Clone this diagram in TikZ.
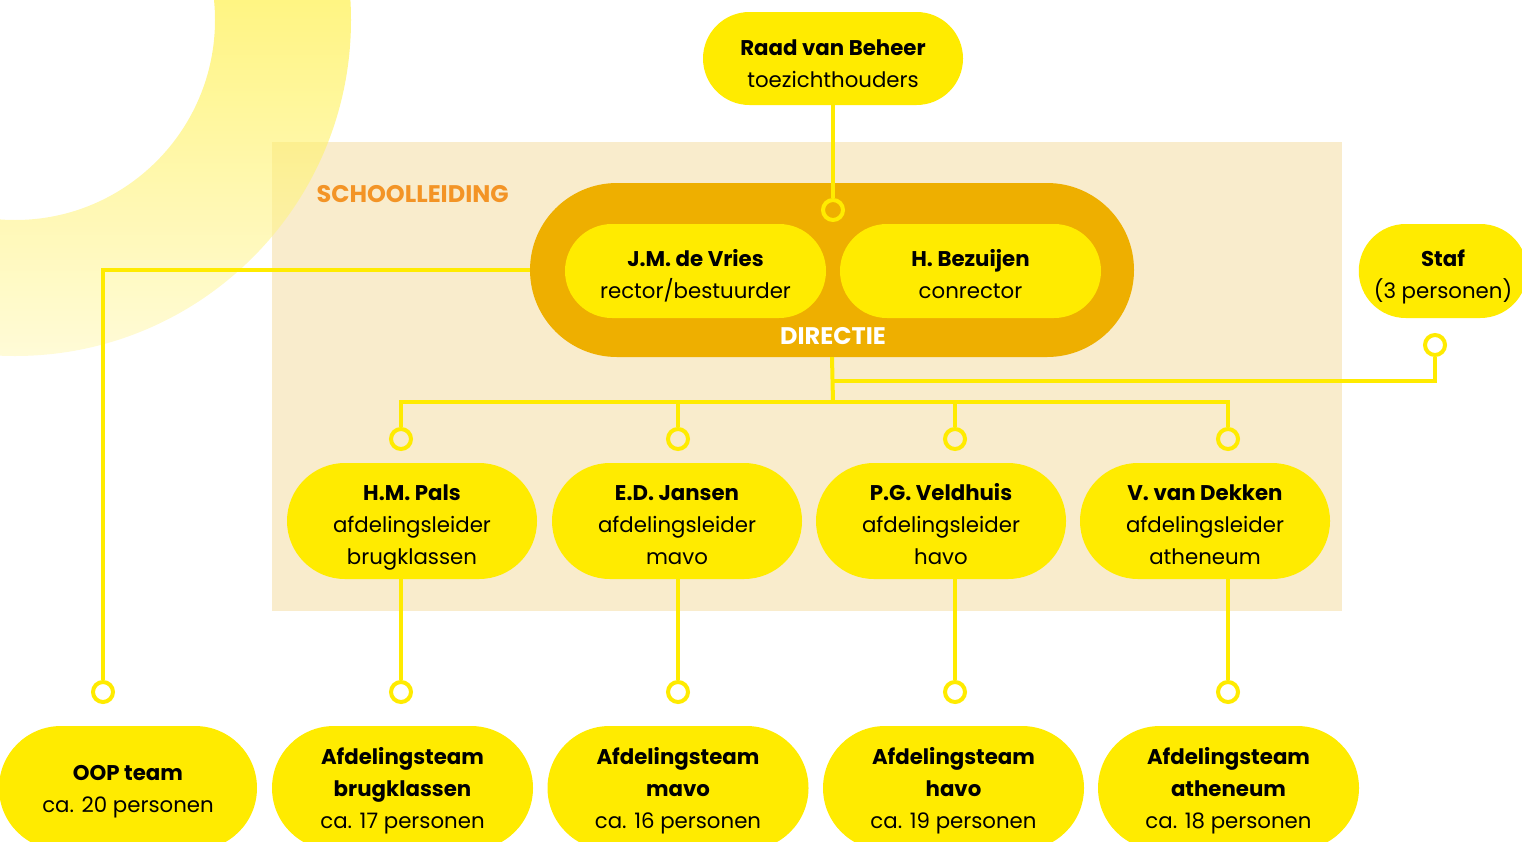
\documentclass[tikz,border=0pt]{standalone}
\usepackage{fontspec}
\setmainfont{Poppins}
\usetikzlibrary{shapes.misc}
\definecolor{yel}{HTML}{FFEB00}
\definecolor{gold}{HTML}{EEAF00}
\definecolor{beige}{HTML}{F9ECCC}
\definecolor{orng}{HTML}{F39426}
\definecolor{ringtop}{HTML}{FFEE30}
\definecolor{ringbot}{HTML}{FFF8BE}
\newcommand\tp[1]{\rule{0pt}{#1}}
\newcommand\bt{\rule[-7pt]{0pt}{7pt}}
\begin{document}
\begin{tikzpicture}[x=1pt,y=-1pt,
  pill/.style={rounded rectangle, fill=yel, align=center, inner sep=0pt, text=black,
    font=\fontsize{21.3}{32}\selectfont},
  dot/.style={circle, draw=yel, line width=4pt, minimum size=20pt, inner sep=0pt},
  conn/.style={draw=yel, line width=4pt}]
\useasboundingbox (0,0) rectangle (1522,841);
\begin{scope}
\clip (0,0) rectangle (1522,841);
% background panel
\fill[beige] (272,142) rectangle (1342,611);
% decorative ring
\begin{scope}[even odd rule]
\clip (15,20) circle (336pt) (15,20) circle (200pt);
\shade[top color=ringtop, bottom color=ringbot, opacity=0.6] (0,0) rectangle (360,360);
\end{scope}
\node[anchor=west, text=orng, font=\fontsize{24}{28}\selectfont\bfseries] (sl) at (313,194) {SCHOOLLEIDING};
% directie
\node[rounded rectangle, fill=gold, minimum width=604pt, minimum height=174pt, inner sep=0pt] (dir) at (832,270) {};
\node[pill, minimum width=261pt, minimum height=94pt] (vries) at (695.5,271) {\tp{30pt}\textbf{J.M. de Vries}\\rector/bestuurder\bt};
\node[pill, minimum width=261pt, minimum height=94pt] (bez) at (970.5,271) {\tp{30pt}\textbf{H. Bezuijen}\\conrector\bt};
\node[text=white, font=\fontsize{24}{28}\selectfont\bfseries] (dirl) at (833,336) {DIRECTIE};
% top
\node[pill, minimum width=260pt, minimum height=93pt] (raad) at (833,58.5) {\tp{32pt}\textbf{Raad van Beheer}\\toezichthouders\bt};
\node[dot] (ctop) at (833,210) {};
\draw[conn] (raad.south) -- (ctop.north);
% staf
\node[pill, minimum width=166pt, minimum height=94pt] (staf) at (1443,271) {\tp{30pt}\textbf{Staf}\\(3 personen)\bt};
\node[dot] (cstaf) at (1435,345) {};
% middle level
\node[pill, minimum width=250pt, minimum height=116pt] (pals) at (412,521) {\tp{30pt}\textbf{H.M. Pals}\\afdelingsleider\\brugklassen\bt};
\node[pill, minimum width=250pt, minimum height=116pt] (jansen) at (677,521) {\tp{30pt}\textbf{E.D. Jansen}\\afdelingsleider\\mavo\bt};
\node[pill, minimum width=250pt, minimum height=116pt] (veld) at (941,521) {\tp{30pt}\textbf{P.G. Veldhuis}\\afdelingsleider\\havo\bt};
\node[pill, minimum width=250pt, minimum height=116pt] (dekk) at (1205,521) {\tp{30pt}\textbf{V. van Dekken}\\afdelingsleider\\atheneum\bt};
\node[dot] (m1) at (401,439) {};
\node[dot] (m2) at (678,439) {};
\node[dot] (m3) at (955,439) {};
\node[dot] (m4) at (1228,439) {};
% bottom level
\node[pill, minimum width=258pt, minimum height=124pt] (oop) at (128,788) {\tp{23pt}\textbf{OOP team}\\ca. 20 personen\bt};
\node[pill, minimum width=261pt, minimum height=124pt] (tbrug) at (402.5,788) {\tp{23pt}\textbf{Afdelingsteam}\\\textbf{brugklassen}\\ca. 17 personen\bt};
\node[pill, minimum width=261pt, minimum height=124pt] (tmavo) at (678,788) {\tp{23pt}\textbf{Afdelingsteam}\\\textbf{mavo}\\ca. 16 personen\bt};
\node[pill, minimum width=261pt, minimum height=124pt] (thavo) at (953.5,788) {\tp{23pt}\textbf{Afdelingsteam}\\\textbf{havo}\\ca. 19 personen\bt};
\node[pill, minimum width=261pt, minimum height=124pt] (tath) at (1228.5,788) {\tp{23pt}\textbf{Afdelingsteam}\\\textbf{atheneum}\\ca. 18 personen\bt};
\node[dot] (b0) at (103,692) {};
\node[dot] (b1) at (401,692) {};
\node[dot] (b2) at (678,692) {};
\node[dot] (b3) at (955,692) {};
\node[dot] (b4) at (1228,692) {};
% connectors
\coordinate (j1) at (833,402);
\coordinate (j2) at (833,381);
\draw[conn] (dir.west) -- (dir.west -| b0) -- (b0.north);
\draw[conn] (dir.south) -- (j1);
\draw[conn] (m1.north) -- (m1 |- j1) -- (m4 |- j1) -- (m4.north);
\draw[conn] (m2 |- j1) -- (m2.north);
\draw[conn] (m3 |- j1) -- (m3.north);
\draw[conn] (j2) -- (j2 -| cstaf) -- (cstaf.south);
\draw[conn] (pals.south -| b1) -- (b1.north);
\draw[conn] (jansen.south -| b2) -- (b2.north);
\draw[conn] (veld.south -| b3) -- (b3.north);
\draw[conn] (dekk.south -| b4) -- (b4.north);
\end{scope}
\end{tikzpicture}
\end{document}
